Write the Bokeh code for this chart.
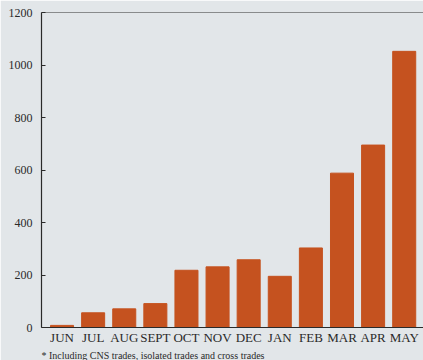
from bokeh.plotting import figure
from bokeh.models import Range1d, FixedTicker, Span, Title, ColumnDataSource
from bokeh.embed import file_html
from bokeh.resources import INLINE

months = ["JUN", "JUL", "AUG", "SEPT", "OCT", "NOV", "DEC", "JAN", "FEB", "MAR", "APR", "MAY"]
trades = [8, 56, 71, 91, 218, 231, 258, 195, 303, 588, 695, 1052]
y_ticks = [0, 200, 400, 600, 800, 1000, 1200]
footnote = "* Including CNS trades, isolated trades and cross trades"

BG = "#e2e6e9"
BAR = "#c5521f"
INK = "#2a2a2a"
FONT = "Liberation Serif"

xs = list(range(len(months)))
src = ColumnDataSource(dict(x=xs, top=trades))

p = figure(width=423, height=360, output_backend="svg", toolbar_location=None,
           x_range=Range1d(-0.66, 11.62), y_range=Range1d(0, 1200),
           min_border_left=41, min_border_right=0, min_border_top=12, min_border_bottom=0)
p.background_fill_color = BG
p.border_fill_color = BG
p.outline_line_color = None
p.grid.grid_line_color = None

p.vbar(x="x", top="top", width=0.74, bottom=0, source=src, fill_color=BAR, line_color=BAR)

p.add_layout(Span(location=1200, dimension="width", line_color=INK, line_width=1.2))

p.xaxis.ticker = FixedTicker(ticks=xs)
p.xaxis.major_label_overrides = {i: m for i, m in enumerate(months)}
p.xaxis.major_tick_line_color = None
p.xaxis.minor_tick_line_color = None
p.xaxis.major_tick_out = 0
p.xaxis.major_tick_in = 0
p.xaxis.axis_line_color = INK
p.xaxis.axis_line_width = 1.2
p.xaxis.major_label_text_font = FONT
p.xaxis.major_label_text_font_size = "13px"
p.xaxis.major_label_text_color = INK
p.xaxis.major_label_standoff = 2
p.xaxis.axis_label_standoff = 0

p.yaxis.ticker = FixedTicker(ticks=y_ticks)
p.yaxis.minor_tick_line_color = None
p.yaxis.major_tick_in = 4
p.yaxis.major_tick_out = 0
p.yaxis.major_tick_line_color = INK
p.yaxis.axis_line_color = INK
p.yaxis.axis_line_width = 1.2
p.yaxis.major_label_text_font = FONT
p.yaxis.major_label_text_font_size = "12px"
p.yaxis.major_label_text_color = INK
p.yaxis.major_label_standoff = 9

p.add_layout(Title(text=footnote, align="left", text_font=FONT, text_font_size="10px",
                   text_font_style="normal", text_color=INK, standoff=0, offset=0,
                   padding=0), "below")

open("out.html", "w").write(file_html(p, INLINE))
